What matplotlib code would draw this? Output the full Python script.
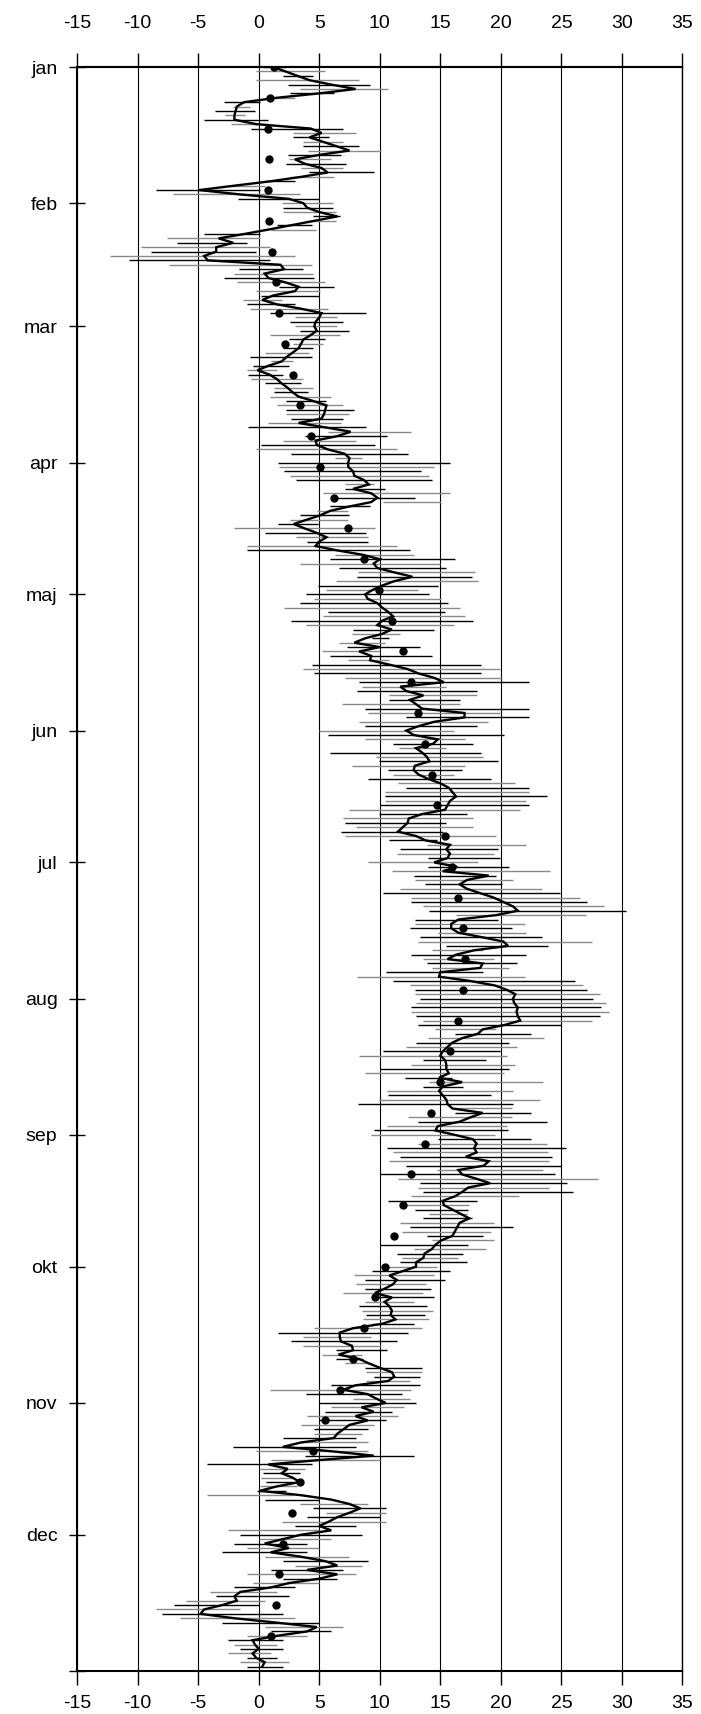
import matplotlib
matplotlib.use('Agg')
import matplotlib.pyplot as plt
import numpy as np

plt.rcParams['font.family'] = ['Liberation Sans', 'DejaVu Sans']
plt.rcParams['axes.unicode_minus'] = False

month_labels = ['jan', 'feb', 'mar', 'apr', 'maj', 'jun', 'jul', 'aug', 'sep', 'okt', 'nov', 'dec']
month_starts = [0, 31, 59, 90, 120, 151, 181, 212, 243, 273, 304, 334, 365]
x_ticks = [-15, -10, -5, 0, 5, 10, 15, 20, 25, 30, 35]

# daily temperature (line)
temp = [1.2, 2.2, 3.2, 4.2, 6.0, 8.0, 5.0, 1.5, -1.2, -1.8, -1.9, -2.0, -2.0, -0.2, 4.3, 5.2, 4.2, 5.3, 6.4, 7.5, 5.0, 3.0, 3.8, 5.2, 5.7, 3.5, 1.0, -2.0, -4.9, -1.5, 2.5,
        3.7, 4.0, 5.0, 6.5, 4.6, 2.7, 0.8, -1.2, -3.3, -2.1, -3.5, -3.5, -4.5, -4.2, 1.8, 2.1, 0.5, 0.8, 2.2, 3.3, 3.0, 1.2,
        0.3, 1.5, 3.5, 5.2, 5.0, 4.7, 4.6, 4.8, 4.3, 3.7, 3.5, 3.3, 2.8, 2.3, 1.9, 0.8, -0.1, 0.9, 1.5, 1.9, 2.4, 2.8, 3.3, 4.5, 5.6, 5.5, 5.4, 5.2,
        3.3, 5.5, 7.6, 6.5, 4.7, 4.8, 5.7, 7.1, 7.5, 7.4, 7.4, 7.8, 7.9, 8.7, 9.1, 7.8, 9.3, 9.8, 9.3, 7.5, 5.9, 5.1, 4.0, 2.9, 3.8, 4.8, 5.6,
        5.0, 4.7, 6.5, 8.6, 10.0, 9.5, 9.8, 11.2, 12.7, 11.2, 10.2, 9.4, 8.8, 9.0, 9.8, 10.2, 10.7, 11.1, 10.2, 9.8, 11.0, 10.2, 8.8, 7.9, 10.0, 8.3, 9.3, 9.2, 10.8,
        12.3, 13.2, 14.5, 15.3, 11.7, 12.2, 13.6, 12.5, 13.0, 13.5, 17.0, 17.0, 14.5, 13.2, 12.2, 12.8, 14.8, 14.4, 13.0, 13.5, 13.9, 14.1, 12.9, 12.8, 13.2, 14.0, 15.0, 15.7,
        16.0, 16.3, 15.8, 15.6, 15.4, 13.5, 12.4, 12.3, 11.9, 11.5, 13.0, 13.8, 15.8, 15.5, 15.8, 15.6, 14.5, 16.4, 15.2, 19.0, 17.2, 16.6, 17.2, 18.3, 19.4, 20.2, 21.0,
        21.4, 19.6, 16.5, 15.9, 15.9, 16.5, 18.4, 20.2, 20.6, 17.8, 16.3, 15.6, 18.5, 18.3, 15.0, 14.9, 17.5, 19.5, 20.5, 21.2, 21.0, 21.1, 21.4, 21.3, 21.4, 21.6, 20.3, 18.5, 18.1,
        16.8, 16.0, 15.6, 15.2, 15.0, 15.4, 15.5, 15.5, 15.7, 14.9, 16.8, 15.2, 14.9, 15.2, 15.5, 15.6, 16.0, 18.5, 17.5, 16.6, 14.8, 14.6, 16.2, 17.7, 18.0, 17.8, 18.0, 17.1,
        19.0, 18.6, 16.5, 16.8, 18.0, 19.1, 17.3, 16.8, 16.2, 15.2, 15.3, 16.0, 16.7, 17.4, 16.6, 16.4, 16.2, 16.0, 15.1, 14.6, 14.3, 13.7, 13.6, 13.0, 13.0, 11.9, 10.8, 11.4,
        11.1, 10.4, 9.6, 11.0, 10.4, 10.8, 11.0, 10.9, 11.3, 10.2, 7.8, 6.7, 6.7, 6.8, 7.7, 7.8, 6.6, 8.3, 9.1, 10.0, 11.0, 11.2, 10.7, 8.0, 7.0, 9.0, 9.7,
        10.5, 8.5, 9.5, 8.0, 9.0, 7.5, 7.0, 6.5, 6.2, 3.5, 2.0, 6.0, 9.5, 5.0, 0.8, 2.4, 1.9, 2.8, 3.4, 1.5, 0.1, 3.5, 6.0, 7.5, 8.4, 7.5, 6.5, 5.8, 5.0, 6.0,
        3.5, 2.0, 0.5, 2.5, 1.0, 3.5, 5.5, 6.5, 4.0, 6.5, 5.0, 2.5, 1.0, -1.5, -2.0, -1.8, -3.0, -4.5, -4.8, -2.0, 1.5, 4.8, 4.0, 1.5, -0.5, -0.3, 0.0, -0.5, -0.2, 0.5, 0.3]

# daily range (horizontal bars): low ends
lo = [0.4, -0.2, 2.0, -0.2, 2.4, 3.4, 2.6, 0.5, -2.9, -2.1, -3.6, -2.8, -4.5, -2.3, -0.6, 2.8, 2.8, 3.7, 3.7, 4.1, 2.4, 2.5, 2.3, 3.5, 4.2, 2.6, 0.5, -3.0, -8.5, -7.1, -1.7,
      1.9, 2.0, 2.0, 4.5, 3.9, 1.5, 1.0, -4.5, -7.6, -6.7, -9.7, -8.9, -12.3, -10.7, -7.4, -1.6, -2.0, -2.9, -1.8, 1.7, -0.2, 0.2,
      -1.3, -1.0, -0.7, 0.9, 3.0, 2.6, 3.0, 3.4, 0.9, 2.5, 2.8, 2.0, 0.5, -0.7, 1.0, -0.5, -1.0, -0.9, -0.6, 0.5, 1.3, 1.3, 0.9, 2.3, 1.5, 2.3, 2.3, 2.7,
      0.8, -0.9, 5.7, 3.8, 2.0, 0.2, -0.2, 2.7, 6.3, 1.6, 1.7, 2.1, 2.6, 3.1, 7.1, 7.1, 5.3, 6.0, 10.3, 5.9, 4.8, 3.4, 2.6, 1.6, -2.0, 0.5, 3.1,
      4.0, -1.0, -1.0, 6.3, 5.9, 3.4, 6.6, 8.2, 8.1, 6.4, 4.9, 5.6, 3.9, 4.6, 3.4, 2.1, 5.7, 5.3, 2.7, 3.9, 7.8, 7.7, 9.4, 6.6, 7.3, 5.2, 5.9, 7.4, 4.4,
      3.7, 4.6, 7.1, 8.3, 8.5, 8.1, 10.8, 10.8, 6.9, 8.8, 9.0, 12.2, 8.3, 8.8, 5.0, 5.7, 8.8, 11.1, 11.6, 5.9, 9.7, 9.9, 7.7, 10.7, 11.1, 9.0, 11.5, 12.2,
      10.4, 10.4, 10.4, 10.0, 7.5, 9.9, 7.0, 7.1, 8.0, 6.8, 7.1, 10.8, 13.9, 11.7, 11.4, 14.0, 9.0, 14.0, 11.0, 12.8, 12.9, 13.7, 11.7, 10.3, 12.6, 12.6, 13.6,
      14.1, 16.3, 12.9, 12.9, 12.5, 14.8, 13.3, 13.2, 15.5, 14.3, 12.6, 13.6, 13.9, 14.3, 10.5, 8.1, 11.1, 12.5, 12.9, 12.9, 13.3, 13.0, 12.6, 12.6, 13.0, 13.6, 13.2, 14.6, 16.2,
      14.0, 13.0, 12.2, 10.3, 8.3, 13.6, 12.6, 10.0, 8.8, 12.1, 14.1, 13.6, 10.6, 10.7, 9.9, 8.2, 16.2, 16.2, 12.3, 13.2, 10.6, 9.5, 9.3, 14.8, 13.2, 10.6, 11.1, 11.7,
      10.8, 12.2, 14.7, 10.0, 11.5, 13.3, 13.2, 13.6, 12.6, 10.7, 12.2, 12.9, 14.1, 13.6, 11.7, 12.5, 11.8, 13.9, 14.3, 10.0, 12.8, 11.4, 11.8, 11.7, 10.1, 9.4, 7.9, 8.8,
      8.0, 8.8, 7.0, 9.7, 8.8, 8.3, 8.5, 8.9, 8.6, 9.4, 4.6, 1.6, 3.7, 2.7, 3.7, 6.4, 5.2, 6.4, 7.1, 8.8, 8.9, 9.5, 8.9, 6.0, 0.9, 3.9, 7.8,
      5.0, 6.0, 5.5, 4.0, 5.0, 3.5, 4.6, 4.6, 2.0, 3.5, -2.1, -0.2, 3.8, 1.0, -4.3, 0.1, 0.4, 0.2, 0.6, 0.1, -0.1, -4.3, 0.5, 3.4, 4.5, 5.6, 4.0, 1.9, 3.0, -2.5,
      -1.5, 0.0, -2.0, -1.0, -3.0, 0.5, 2.0, 3.0, 1.0, -1.0, 2.0, -0.5, -2.0, -4.0, -3.5, -6.0, -7.0, -8.5, -8.0, -6.5, -3.0, 0.5, 1.0, -1.0, -2.5, -2.0, -1.5, -2.5, -1.0, -1.5, -1.0]

# daily range: high ends
hi = [2.3, 5.5, 4.5, 8.3, 9.2, 10.7, 6.2, 3.0, 0.1, -0.7, -0.3, -1.1, 0.8, 0.8, 7.0, 8.0, 5.8, 7.0, 8.3, 10.1, 6.8, 6.0, 7.2, 7.0, 9.5, 6.2, 3.0, 0.5, 0.1, 3.4, 5.0,
      6.1, 6.1, 6.4, 6.7, 6.4, 4.4, 4.7, 0.1, 0.1, -1.0, 0.9, -0.2, 3.0, 0.9, 4.4, 3.7, 4.5, 4.6, 5.5, 6.2, 5.1, 5.0,
      1.9, 3.0, 5.7, 8.9, 6.5, 7.0, 6.5, 7.5, 6.7, 5.5, 5.3, 4.5, 4.2, 4.4, 2.8, 2.5, 1.5, 2.0, 3.7, 3.5, 4.5, 4.1, 6.0, 5.6, 7.0, 7.9, 7.5, 7.0,
      6.8, 8.9, 12.6, 10.6, 8.0, 9.6, 11.4, 12.3, 8.5, 15.8, 14.5, 13.4, 14.1, 14.3, 9.5, 10.4, 15.8, 12.9, 15.1, 9.2, 7.4, 7.5, 7.4, 4.9, 9.6, 8.9, 9.0,
      9.0, 11.4, 12.5, 12.8, 16.2, 15.0, 15.5, 17.9, 17.6, 18.1, 14.8, 13.2, 14.1, 15.1, 15.6, 16.6, 15.4, 17.0, 17.7, 16.1, 14.5, 11.7, 10.8, 10.4, 13.3, 10.0, 14.3, 10.8, 18.4,
      19.9, 18.4, 20.1, 22.3, 15.5, 18.0, 18.0, 16.6, 16.6, 22.3, 19.9, 22.3, 18.9, 18.0, 16.1, 20.3, 17.0, 17.7, 15.5, 18.4, 18.5, 19.8, 17.0, 16.8, 16.1, 19.2, 21.2, 22.3,
      22.3, 23.8, 22.1, 22.3, 21.6, 17.2, 17.7, 15.5, 17.7, 15.2, 19.6, 14.7, 22.1, 19.8, 19.4, 19.9, 18.1, 20.7, 24.1, 19.6, 21.0, 20.1, 23.4, 24.9, 26.5, 27.1, 28.5,
      30.3, 27.0, 19.8, 22.0, 20.9, 22.1, 23.4, 27.5, 23.9, 18.5, 22.1, 19.4, 21.3, 20.7, 18.5, 22.0, 26.1, 26.8, 27.1, 28.2, 27.6, 28.7, 28.3, 28.9, 28.2, 27.5, 25.0, 19.6, 22.5,
      23.6, 20.7, 21.3, 19.9, 20.5, 18.8, 21.2, 20.7, 20.3, 16.0, 23.5, 16.9, 21.0, 19.2, 23.2, 21.0, 20.9, 22.5, 20.9, 23.8, 20.5, 20.6, 19.5, 22.5, 23.8, 25.4, 23.9, 24.2,
      24.0, 25.0, 23.5, 24.5, 28.0, 25.5, 24.0, 26.0, 21.5, 18.0, 17.4, 17.3, 17.2, 17.6, 19.4, 21.0, 19.2, 18.5, 19.4, 17.3, 18.8, 16.9, 16.5, 17.2, 14.7, 15.8, 14.5, 15.4,
      13.8, 14.2, 13.6, 14.5, 12.8, 13.9, 14.4, 13.7, 14.1, 12.8, 13.5, 12.3, 9.3, 11.4, 10.1, 10.6, 8.5, 8.6, 9.4, 13.5, 13.5, 13.3, 12.5, 13.3, 12.6, 11.8, 12.5,
      13.0, 12.0, 11.0, 11.5, 10.5, 9.5, 9.0, 8.5, 8.0, 9.0, 8.0, 9.0, 12.8, 10.0, 4.4, 3.8, 3.4, 2.8, 3.0, 3.2, 2.3, 2.8, 5.0, 9.0, 10.5, 10.5, 10.0, 10.5, 8.0, 5.0,
      8.5, 6.0, 4.0, 5.0, 4.0, 7.5, 9.0, 8.5, 7.0, 8.0, 6.5, 5.0, 3.0, 1.5, 2.5, 0.5, 0.0, -1.5, 2.0, 3.0, 5.0, 7.0, 6.0, 4.0, 2.0, 1.5, 2.0, 1.0, 1.5, 2.5, 2.0]

# weekly normal values (dots)
normal = [1.27, 0.96, 0.77, 0.83, 0.8, 0.83, 1.13, 1.4, 1.65, 2.2, 2.8, 3.45, 4.3, 5.1, 6.2, 7.4, 8.7, 9.9, 11.0, 11.9,
          12.6, 13.2, 13.7, 14.3, 14.7, 15.4, 16.0, 16.5, 16.9, 17.0, 16.9, 16.5, 15.8, 15.0, 14.2, 13.7, 12.6, 11.9, 11.2, 10.4,
          9.6, 8.7, 7.8, 6.7, 5.5, 4.5, 3.4, 2.75, 2.0, 1.66, 1.4, 1.04]

n = min(len(temp), len(lo), len(hi))
days = np.arange(n)
week_days = np.arange(len(normal)) * 7

fig = plt.figure(figsize=(7.01, 17.14), dpi=100)
ax = fig.add_axes([0.1098, 0.0251, 0.8638, 0.9358])

bar_colors = ['black' if i % 2 == 0 else '#8a8a8a' for i in days]
ax.hlines(days, lo[:n], hi[:n], colors=bar_colors, lw=1.0, zorder=2)
ax.plot(temp[:n], days, color='black', lw=1.7, zorder=3, solid_joinstyle='miter')
ax.plot(normal, week_days, 'o', color='black', ms=5, zorder=4)

ax.set_xlim(-15, 35)
ax.set_ylim(365, 0)
ax.set_xticks(x_ticks)
ax.set_xticklabels([str(t) for t in x_ticks])
ax.tick_params(axis='x', which='major', bottom=True, top=False, labelbottom=True,
               direction='out', length=10, width=1, pad=7, labelsize=14, colors='black')

sec = ax.secondary_xaxis('top')
sec.set_xticks(x_ticks)
sec.set_xticklabels([str(t) for t in x_ticks])
sec.tick_params(axis='x', direction='out', length=10, width=1, pad=15, labelsize=14)
sec.spines['top'].set_linewidth(1.5)

ax.set_yticks(month_starts)
ax.set_yticklabels(month_labels + [''])
ax.tick_params(axis='y', which='major', left=True, right=False, direction='inout',
               length=12, width=1, pad=8, labelsize=14)

ax.grid(axis='x', color='black', lw=0.8)
ax.grid(axis='y', visible=False)
ax.set_axisbelow(True)
for s in ['left', 'bottom', 'top']:
    ax.spines[s].set_linewidth(1.5)
ax.spines['right'].set_linewidth(1.0)

fig.savefig('out.png', dpi=100)
